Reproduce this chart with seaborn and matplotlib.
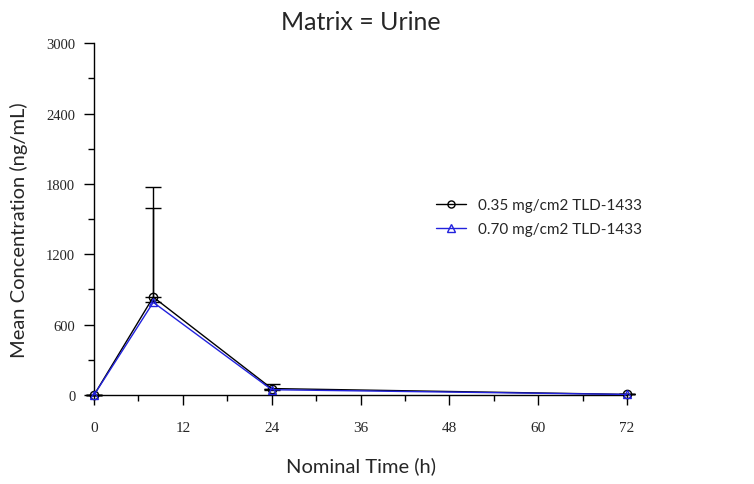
import matplotlib
matplotlib.use("Agg")
import matplotlib.pyplot as plt
import seaborn as sns
from matplotlib.ticker import MultipleLocator

# data
time_h = [0, 8, 24, 72]
dose_labels = ["0.35 mg/cm2 TLD-1433", "0.70 mg/cm2 TLD-1433"]
conc_low = [0, 835, 55, 5]
sd_low = [0, 938, 40, 0]
conc_high = [0, 790, 45, 5]
sd_high = [0, 804, 10, 0]

sns.set_style("white")
plt.rcParams['font.family'] = ['Lato', 'DejaVu Sans']

fig = plt.figure(figsize=(7.54, 4.85), dpi=100)
ax = fig.add_axes([0.1247, 0.1835, 0.707, 0.7255])

series = [
    (conc_low, sd_low, dose_labels[0], "black", "o"),
    (conc_high, sd_high, dose_labels[1], "#2222dd", "^"),
]
for conc, sd, label, col, mk in series:
    sns.lineplot(x=time_h, y=conc, color=col, marker=mk, markersize=6,
                 markerfacecolor="none", markeredgecolor=col, markeredgewidth=1.0,
                 linewidth=1.0, label=label, ax=ax, clip_on=False, zorder=3)
    # upper error bars only
    ax.errorbar(time_h, conc, yerr=[[0] * len(sd), sd], fmt="none",
                ecolor="black", elinewidth=1.0, capsize=6, capthick=1.0,
                clip_on=False, zorder=2)

ax.set_xlim(0, 72)
ax.set_ylim(0, 3000)
ax.xaxis.set_major_locator(MultipleLocator(12))
ax.xaxis.set_minor_locator(MultipleLocator(6))
ax.yaxis.set_major_locator(MultipleLocator(600))
ax.yaxis.set_minor_locator(MultipleLocator(300))

for side in ["top", "right"]:
    ax.spines[side].set_visible(False)
for side in ["left", "bottom"]:
    ax.spines[side].set_color("black")
    ax.spines[side].set_linewidth(1.0)

ax.tick_params(which="major", direction="out", length=7.5, width=1.0,
               color="black", bottom=True, left=True)
ax.tick_params(which="minor", direction="out", length=4.5, width=1.0,
               color="black", bottom=True, left=True)
for lbl in ax.get_xticklabels():
    lbl.set_family("Liberation Serif")
    lbl.set_fontsize(11)
for lbl in ax.get_yticklabels():
    lbl.set_family("Liberation Serif")
    lbl.set_fontsize(10.5)
ax.tick_params(axis="x", pad=11)
ax.tick_params(axis="y", pad=6)

ax.set_title("Matrix = Urine", fontsize=18, pad=10)
ax.set_xlabel("Nominal Time (h)", fontsize=14.5, labelpad=16)
ax.set_ylabel("Mean Concentration (ng/mL)", fontsize=14.5)
ax.yaxis.set_label_coords(-0.123, 0.47)

leg = ax.legend(loc="center left", bbox_to_anchor=(0.615, 0.505), frameon=False,
                fontsize=11, handlelength=2.0, labelspacing=0.65, markerscale=0.85)

fig.savefig("out.png", dpi=100)
